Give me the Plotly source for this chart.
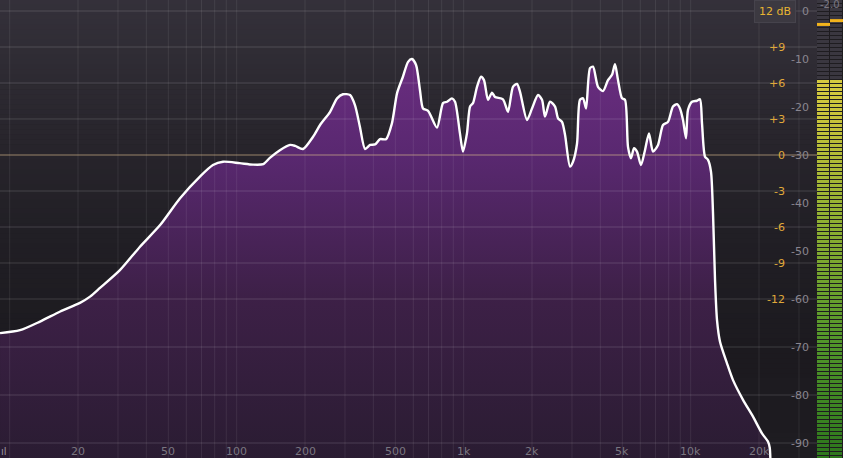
import numpy as np
import plotly.graph_objects as go

# ---------------- data ----------------
freq_hz = [9.07, 11.1, 13.6, 16.7, 20.4, 22.6, 25.0, 30.6, 37.5, 46.0, 56.3, 68.9, 78.6, 87.1,
           103, 118, 131, 140, 155, 172, 181, 196, 217, 233, 258, 277, 294, 316, 332, 349,
           368, 387, 407, 428, 455, 483, 509, 540, 569, 592, 617, 642, 662, 697, 763, 811,
           845, 888, 916, 963, 993, 1034, 1067, 1099, 1145, 1192, 1229, 1280, 1333, 1374,
           1490, 1568, 1649, 1718, 1770, 1901, 2000, 2126, 2214, 2282, 2400, 2526, 2604,
           2712, 2796, 2940, 3032, 3158, 3254, 3356, 3460, 3602, 3714, 3906, 4110, 4324,
           4502, 4642, 4786, 4984, 5138, 5296, 5460, 5628, 5802, 6042, 6292, 6552, 6826,
           7182, 7554, 7946, 8358, 8708, 8974, 9252, 9538, 9732, 10136, 10664, 10994, 11220,
           11566, 11924, 12292, 12544, 12802, 13064, 13466, 14456, 15368, 17006, 18820,
           20620, 21900, 22300, 22580]
level_db = [-67.1, -66.5, -64.7, -62.6, -60.8, -59.5, -57.7, -54.0, -49.1, -44.6, -39.0, -34.5, -32.1, -31.4,
            -31.7, -32.0, -31.9, -30.6, -29.0, -27.9, -28.1, -28.75, -26.2, -23.75, -21.0, -18.2, -17.35, -17.5, -19.6, -24.1,
            -28.75, -27.9, -27.8, -26.7, -26.7, -23.4, -17.1, -13.7, -10.6, -10.0, -11.25, -16.5, -20.3, -20.8, -24.3, -19.2,
            -18.9, -18.2, -18.9, -25.5, -29.3, -25.5, -19.9, -19.2, -15.8, -13.7, -14.4, -18.5, -17.0, -17.9,
            -18.4, -21.0, -15.8, -15.2, -16.8, -22.7, -20.3, -17.5, -18.5, -22.0, -18.9, -19.9, -22.35,
            -23.1, -25.8, -32.4, -31.4, -27.6, -18.5, -18.2, -20.3, -11.9, -11.6, -15.8, -16.7, -14.4,
            -13.3, -11.1, -14.4, -18.2, -18.5, -28.3, -30.7, -28.6, -29.3, -32.1, -29.0, -25.5, -29.3,
            -27.9, -23.75, -23.1, -19.9, -19.4, -20.3, -22.7, -26.5, -20.6, -18.9, -18.7, -18.4, -23.4,
            -30.35, -31.0, -33.5, -42.1, -56.0, -64.4, -68.9, -73.4, -76.9, -81.0, -84.5,
            -88.0, -89.7, -91.0, -100.0]

freq_tick_vals = [20, 50, 100, 200, 500, 1000, 2000, 5000, 10000, 20000]
freq_tick_text = ["20", "50", "100", "200", "500", "1k", "2k", "5k", "10k", "20k"]
freq_grid = [10, 20, 30, 40, 50, 60, 70, 80, 90, 100, 200, 300, 400, 500, 600, 700, 800, 900,
             1000, 2000, 3000, 4000, 5000, 6000, 7000, 8000, 9000, 10000, 20000, 30000]
db_tick_vals = [0, -10, -20, -30, -40, -50, -60, -70, -80, -90]
db_grid_extra = [-70, -80, -90]
eq_tick_vals = [9, 6, 3, 0, -3, -6, -9, -12]
eq_tick_text = ["+9", "+6", "+3", "0", "-3", "-6", "-9", "-12"]
eq_grid = [12, 9, 6, 3, -3, -6, -9, -12]
meter_rms_db = [-14.4, -14.4]
meter_peak_db = [-2.8, -2.0]
peak_readout = "-2.0"
eq_range_label = "12 dB"

# ---------------- layout constants ----------------
W, H = 843, 458
PLOT_R = 817 / W
PX_PER_DB = 4.8
Y_TOP = 11 / PX_PER_DB
Y_RANGE = [Y_TOP - H / PX_PER_DB, Y_TOP]
X_RANGE = [0.95742, 4.55654]
EQ_OFFSET, EQ_SCALE = -30.0, 2.5      # eq dB -> analyzer dB


def eq_to_db(e):
    return EQ_OFFSET + EQ_SCALE * e


def lerp_color(stops, t):
    for k in range(len(stops) - 1):
        if stops[k][0] <= t <= stops[k + 1][0]:
            u = (t - stops[k][0]) / (stops[k + 1][0] - stops[k][0])
            c = tuple(int(round(a + (b - a) * u)) for a, b in zip(stops[k][1], stops[k + 1][1]))
            return "rgb(%d,%d,%d)" % c
    return "rgb(%d,%d,%d)" % stops[-1][1]


fmin, fmax = 10 ** X_RANGE[0], 10 ** X_RANGE[1]
fig = go.Figure()

# baseline for fill
fig.add_trace(go.Scatter(x=[freq_hz[0], freq_hz[-1]], y=[-120, -120], mode="lines",
                         line=dict(width=0), hoverinfo="skip", showlegend=False))
# filled spectrum
fig.add_trace(go.Scatter(
    x=freq_hz, y=level_db, mode="lines", fill="tonexty",
    line=dict(width=0, shape="spline", smoothing=0.7),
    fillgradient=dict(type="vertical", start=Y_RANGE[0], stop=Y_RANGE[1],
                      colorscale=[[0, "#2a1c32"], [0.35, "#3d2047"], [0.66, "#592870"],
                                  [0.87, "#6a2d80"], [1, "#702f87"]]),
    hoverinfo="skip", showlegend=False))

# grid lines (drawn over the fill)
vx, vy = [], []
for f in freq_grid:
    vx += [f, f, None]
    vy += [Y_RANGE[0], Y_RANGE[1], None]
fig.add_trace(go.Scatter(x=vx, y=vy, mode="lines", line=dict(color="rgba(255,255,255,0.08)", width=1),
                         hoverinfo="skip", showlegend=False))
hx, hy = [], []
for e in eq_grid:
    hx += [fmin, fmax, None]
    hy += [eq_to_db(e), eq_to_db(e), None]
for d in db_grid_extra:
    hx += [fmin, fmax, None]
    hy += [d, d, None]
fig.add_trace(go.Scatter(x=hx, y=hy, mode="lines", line=dict(color="rgba(255,255,255,0.15)", width=1),
                         hoverinfo="skip", showlegend=False))
fig.add_trace(go.Scatter(x=[fmin, fmax], y=[eq_to_db(0)] * 2, mode="lines",
                         line=dict(color="rgba(215,185,140,0.65)", width=1),
                         hoverinfo="skip", showlegend=False))

# spectrum curve
fig.add_trace(go.Scatter(x=freq_hz, y=level_db, mode="lines",
                         line=dict(color="#ffffff", width=2.4, shape="spline", smoothing=0.7),
                         hoverinfo="skip", showlegend=False))

# ---------------- level meter (heatmap, 4px pitch segments) ----------------
pitch_db = 4 / PX_PER_DB
n_seg = int(np.ceil(H / 4))
edges = [Y_TOP - k * pitch_db for k in range(n_seg, -1, -1)]      # ascending
mids = [(edges[i] + edges[i + 1]) / 2 for i in range(n_seg)]
z = []
for m in mids:
    row = []
    for c in range(2):
        if m <= meter_rms_db[c]:
            t = (m - Y_RANGE[0]) / (meter_rms_db[c] - Y_RANGE[0])
            row.append(0.06 + 0.94 * max(0.0, min(1.0, t)))
        else:
            row.append(0.0)
    z.append(row)
fig.add_trace(go.Heatmap(
    x=[-0.5, 0.5, 1.5], y=edges, z=z, xaxis="x2", yaxis="y2", zmin=0, zmax=1,
    showscale=False, xgap=1, ygap=1, hoverinfo="skip",
    colorscale=[[0, "#3a3740"], [0.05, "#3a3740"], [0.05, "#2c761c"], [0.35, "#52962a"],
                [0.7, "#9ab433"], [0.9, "#c6c23a"], [1, "#d6ca40"]]))
px_, py_ = [], []
for c, p in enumerate(meter_peak_db):
    px_ += [c - 0.5, c + 0.5, None]
    py_ += [p, p, None]
fig.add_trace(go.Scatter(x=px_, y=py_, xaxis="x2", yaxis="y2", mode="lines",
                         line=dict(color="#f2b31c", width=3), hoverinfo="skip", showlegend=False))

# ---------------- background gradient ----------------
stops = [(0, (0x34, 0x30, 0x3a)), (60, (0x2f, 0x2c, 0x34)), (150, (0x27, 0x24, 0x2b)),
         (250, (0x20, 0x1e, 0x24)), (350, (0x1c, 0x1a, 0x1f)), (458, (0x1e, 0x1c, 0x21))]
shapes = []
nb = 92
for i in range(nb):
    y0p = i * H / nb
    y1p = (i + 1) * H / nb
    ym = (y0p + y1p) / 2
    shapes.append(dict(type="rect", xref="paper", yref="paper", x0=0, x1=PLOT_R,
                       y0=1 - y1p / H - 0.0005, y1=1 - y0p / H + 0.0005, layer="below",
                       line=dict(width=0), fillcolor=lerp_color(stops, ym)))

# ---------------- labels ----------------
ann = []
font = "DejaVu Sans"
for d in db_tick_vals:
    ann.append(dict(x=811 / W, xref="paper", y=d, yref="y", text=str(d), showarrow=False,
                    xanchor="right", yanchor="middle", font=dict(family=font, size=11, color="#8a8690")))
for e, t in zip(eq_tick_vals, eq_tick_text):
    ann.append(dict(x=787 / W, xref="paper", y=eq_to_db(e), yref="y", text=t, showarrow=False,
                    xanchor="right", yanchor="middle", font=dict(family=font, size=11, color="#e0a93a")))
for f, t in zip(freq_tick_vals, freq_tick_text):
    ann.append(dict(x=np.log10(f), xref="x", y=(H - 451) / H, yref="paper", text=t, showarrow=False,
                    xanchor="center", yanchor="middle", font=dict(family=font, size=11, color="#7a7680")))
ann.append(dict(x=775 / W, xref="paper", y=(H - 11) / H, yref="paper", text=eq_range_label,
                showarrow=False, xanchor="center", yanchor="middle", bgcolor="#3c3941",
                bordercolor="#46434c", borderwidth=1, borderpad=4,
                font=dict(family=font, size=11, color="#e8b531")))
ann.append(dict(x=830 / W, xref="paper", y=(H - 4) / H, yref="paper", text=peak_readout,
                showarrow=False, xanchor="center", yanchor="middle",
                font=dict(family=font, size=10, color="#7c7882")))
ann.append(dict(x=4 / W, xref="paper", y=(H - 451) / H, yref="paper", text="ıl",
                showarrow=False, xanchor="center", yanchor="middle",
                font=dict(family=font, size=10, color="#9a96a0")))

fig.update_layout(
    width=W, height=H, margin=dict(l=0, r=0, t=0, b=0),
    paper_bgcolor="#1e1c20", plot_bgcolor="#1e1c20",
    showlegend=False, shapes=shapes, annotations=ann,
    xaxis=dict(type="log", range=X_RANGE, domain=[0, PLOT_R], showgrid=False, zeroline=False,
               showticklabels=False, ticks="", fixedrange=True),
    yaxis=dict(range=Y_RANGE, showgrid=False, zeroline=False, showticklabels=False, ticks="",
               fixedrange=True),
    xaxis2=dict(range=[-0.5, 1.5], domain=[PLOT_R, 1], anchor="y2", showgrid=False, zeroline=False,
                showticklabels=False, ticks="", fixedrange=True),
    yaxis2=dict(range=Y_RANGE, anchor="x2", showgrid=False, zeroline=False, showticklabels=False,
                ticks="", fixedrange=True),
)

fig.write_html("out.html", config={"displayModeBar": False},
               post_script="document.body.style.margin='0px';document.body.style.overflow='hidden';")
